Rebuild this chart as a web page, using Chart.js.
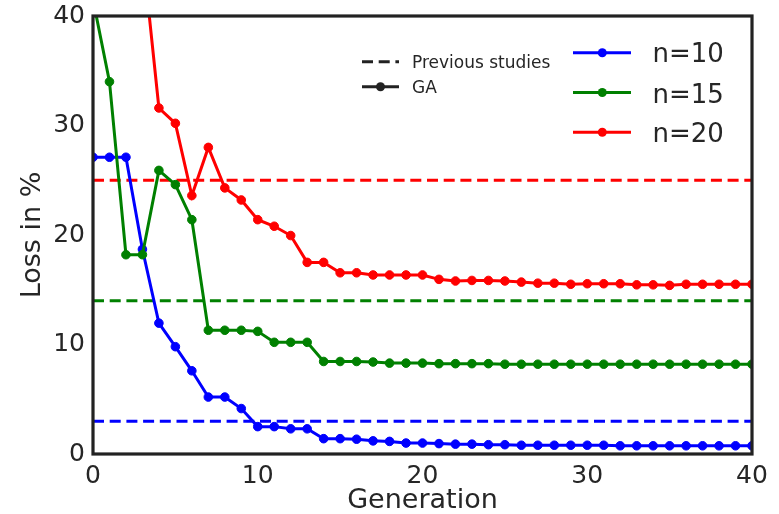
<!DOCTYPE html>
<html>
<head>
<meta charset="utf-8">
<script src="https://cdn.jsdelivr.net/npm/chart.js@4.4.1/dist/chart.umd.min.js"></script>
<style>
html,body{margin:0;padding:0;background:#fff;}
#wrap{width:779px;height:514px;}
</style>
</head>
<body>
<div id="wrap"><canvas id="c" width="779" height="514"></canvas></div>
<script>
const generations = [0,1,2,3,4,5,6,7,8,9,10,11,12,13,14,15,16,17,18,19,20,21,22,23,24,25,26,27,28,29,30,31,32,33,34,35,36,37,38,39,40];
const gaN10 = [27.1,27.1,27.1,18.7,11.95,9.8,7.6,5.2,5.2,4.15,2.5,2.5,2.3,2.3,1.4,1.4,1.35,1.2,1.15,1.0,1.0,0.95,0.9,0.9,0.85,0.85,0.8,0.8,0.8,0.8,0.8,0.8,0.75,0.75,0.75,0.75,0.75,0.75,0.75,0.75,0.75];
const gaN15 = [41.5,34.0,18.2,18.2,25.9,24.6,21.4,11.3,11.3,11.3,11.2,10.2,10.2,10.2,8.45,8.45,8.45,8.4,8.3,8.3,8.3,8.25,8.25,8.25,8.25,8.2,8.2,8.2,8.2,8.2,8.2,8.2,8.2,8.2,8.2,8.2,8.2,8.2,8.2,8.2,8.2];
const gaN20 = [null,null,null,46,31.6,30.2,23.6,28.0,24.3,23.2,21.4,20.8,19.95,17.5,17.5,16.55,16.55,16.35,16.35,16.35,16.35,15.95,15.8,15.85,15.85,15.8,15.7,15.6,15.6,15.5,15.55,15.55,15.55,15.45,15.45,15.4,15.5,15.5,15.5,15.5,15.5];
const prevStudies = {n10: 3, n15: 14, n20: 25};
const xTicks = [0,10,20,30,40];
const yTicks = [0,10,20,30,40];
const seriesLabels = ['n=10','n=15','n=20'];
const seriesColors = ['#0000ff','#008000','#ff0000'];
const styleLabels = ['Previous studies','GA'];

const TXT = '#262626';
const FONT = 'DejaVu Sans';

function pts(arr){ return generations.map((g,i)=>({x:g,y:arr[i]})); }
function flat(v){ return [{x:generations[0],y:v},{x:generations[generations.length-1],y:v}]; }

function gaSet(label, arr, color, order){
  return {label, data: pts(arr), borderColor: color, backgroundColor: color,
    borderWidth: 3, pointRadius: 4.3, pointBorderWidth: 1, pointBackgroundColor: color,
    pointBorderColor: color, pointHoverRadius: 4.3, tension: 0, order, spanGaps: false};
}
function prevSet(label, v, color, order){
  return {label, data: flat(v), borderColor: color, borderWidth: 3, borderDash: [11,5.7],
    pointRadius: 0, pointHoverRadius: 0, order};
}

const framePlugin = {
  id: 'frame',
  afterDraw(chart){
    const {ctx, chartArea: a} = chart;
    ctx.save();
    ctx.strokeStyle = '#222';
    ctx.lineWidth = 3.2;
    ctx.strokeRect(a.left, a.top, a.right - a.left, a.bottom - a.top);
    // legends
    ctx.fillStyle = TXT;
    ctx.textBaseline = 'alphabetic';
    ctx.textAlign = 'left';
    // style legend
    ctx.strokeStyle = '#222';
    ctx.lineWidth = 3;
    ctx.setLineDash([11,5.7]);
    ctx.beginPath(); ctx.moveTo(362, 61.7); ctx.lineTo(399, 61.7); ctx.stroke();
    ctx.setLineDash([]);
    ctx.beginPath(); ctx.moveTo(362, 86.7); ctx.lineTo(399, 86.7); ctx.stroke();
    ctx.fillStyle = '#222';
    ctx.beginPath(); ctx.arc(380.5, 86.7, 4.5, 0, Math.PI*2); ctx.fill();
    ctx.fillStyle = TXT;
    ctx.font = '17px "' + FONT + '"';
    ctx.fillText(styleLabels[0], 412, 67.7);
    ctx.fillText(styleLabels[1], 412, 92.7);
    // series legend
    const ys = [52.7, 92.5, 132.3];
    const bl = [62.3, 102.5, 142.3];
    ctx.font = '26px "' + FONT + '"';
    for (let i = 0; i < 3; i++){
      ctx.strokeStyle = seriesColors[i];
      ctx.fillStyle = seriesColors[i];
      ctx.lineWidth = 3;
      ctx.beginPath(); ctx.moveTo(573, ys[i]); ctx.lineTo(631, ys[i]); ctx.stroke();
      ctx.beginPath(); ctx.arc(602.3, ys[i], 4.5, 0, Math.PI*2); ctx.fill();
      ctx.fillStyle = TXT;
      ctx.fillText(seriesLabels[i], 652.5, bl[i]);
    }
    ctx.restore();
  }
};

new Chart(document.getElementById('c'), {
  type: 'line',
  data: {
    datasets: [
      gaSet('GA n=20', gaN20, seriesColors[2], 0),
      gaSet('GA n=15', gaN15, seriesColors[1], 1),
      gaSet('GA n=10', gaN10, seriesColors[0], 2),
      prevSet('Previous n=20', prevStudies.n20, seriesColors[2], 3),
      prevSet('Previous n=15', prevStudies.n15, seriesColors[1], 4),
      prevSet('Previous n=10', prevStudies.n10, seriesColors[0], 5)
    ]
  },
  options: {
    responsive: false,
    animation: false,
    devicePixelRatio: 1,
    layout: {padding: {top: 16, right: 27, bottom: 0, left: 0}},
    plugins: {legend: {display: false}, tooltip: {enabled: false}},
    scales: {
      x: {
        type: 'linear', min: 0, max: 40,
        afterBuildTicks(s){ s.ticks = xTicks.map(v=>({value:v})); },
        afterFit(s){ s.height = 60; },
        grid: {display: false, drawTicks: false},
        border: {display: false},
        ticks: {color: TXT, font: {family: FONT, size: 25}, padding: 7, maxRotation: 0, autoSkip: false},
        title: {display: true, text: 'Generation', color: TXT, font: {family: FONT, size: 27, lineHeight: 1.2}, padding: {top: 0, bottom: -3}}
      },
      y: {
        min: 0, max: 40,
        afterBuildTicks(s){ s.ticks = yTicks.map(v=>({value:v})); },
        afterFit(s){ s.width = 93; },
        grid: {display: false, drawTicks: false},
        border: {display: false},
        ticks: {color: TXT, font: {family: FONT, size: 25, lineHeight: 0.6}, padding: 8},
        title: {display: true, text: 'Loss in %', color: TXT, font: {family: FONT, size: 27, lineHeight: 1.2}, padding: {top: 17, bottom: 0}}
      }
    }
  },
  plugins: [framePlugin]
});
</script>
</body>
</html>
